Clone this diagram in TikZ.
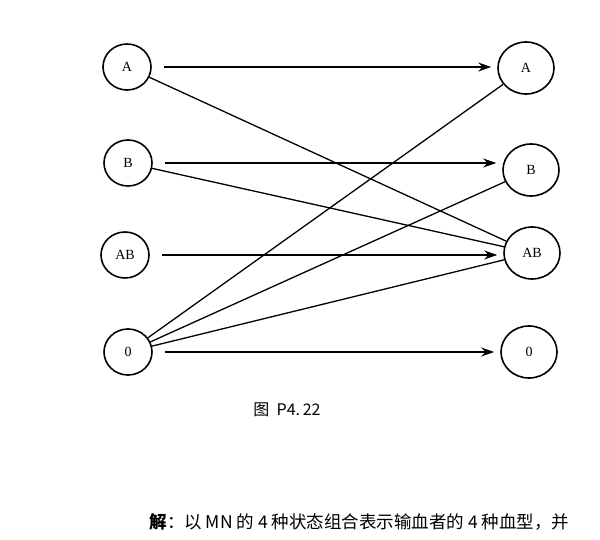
\documentclass[tikz,border=0pt]{standalone}
\usepackage{fontspec}
\setmainfont{Liberation Serif}
\newfontfamily\cjk{Noto Sans CJK SC}
\usetikzlibrary{arrows.meta,shapes.geometric}
\begin{document}
\begin{tikzpicture}[x=1pt,y=-1pt,
  st/.style={ellipse,draw,line width=1.6pt,minimum width=48pt,minimum height=46pt,inner sep=0pt,font=\fontsize{14}{14}\selectfont},
  rt/.style={st,minimum width=56pt,minimum height=52pt},
  ar/.style={line width=1.6pt,-{Stealth[length=13pt,width=9pt]}},
  ln/.style={line width=1.3pt}]
\useasboundingbox (0,0) rectangle (600,540);
\node[st] (LA) at (127,67) {A};
\node[st] (LB) at (128,163) {B};
\node[st] (LAB) at (125,255) {AB};
\node[st] (LO) at (128,352) {0};
\node[rt] (RA) at (526,68) {A};
\node[rt] (RB) at (531,170) {B};
\node[rt] (RAB) at (532,253) {AB};
\node[rt] (RO) at (529,352) {0};
\draw[ar] ([xshift=12pt]LA.east) -- ([xshift=-6pt]RA.west|-LA.east);
\draw[ar] ([xshift=12pt]LB.east) -- ([xshift=-6pt]RB.west|-LB.east);
\draw[ar] ([xshift=12pt]LAB.east) -- ([xshift=-6pt]RAB.west|-LAB.east);
\draw[ar] ([xshift=12pt]LO.east) -- ([xshift=-6pt]RO.west|-LO.east);
\draw[ln] (LA) -- (RAB);
\draw[ln] (LB) -- (RAB);
\draw[ln] (LO) -- (RA);
\draw[ln] (LO) -- (RB);
\draw[ln] (LO) -- (RAB);
\node[font=\cjk\fontsize{16}{16}\selectfont] (cap) at (287,410) {图\ \ P4.\,22};
\node[font=\cjk\fontsize{17.5}{17.5}\selectfont,anchor=west] (txt) at (146,522) {\textbf{解}：以 MN 的 4 种状态组合表示输血者的 4 种血型，并};
\end{tikzpicture}
\end{document}
